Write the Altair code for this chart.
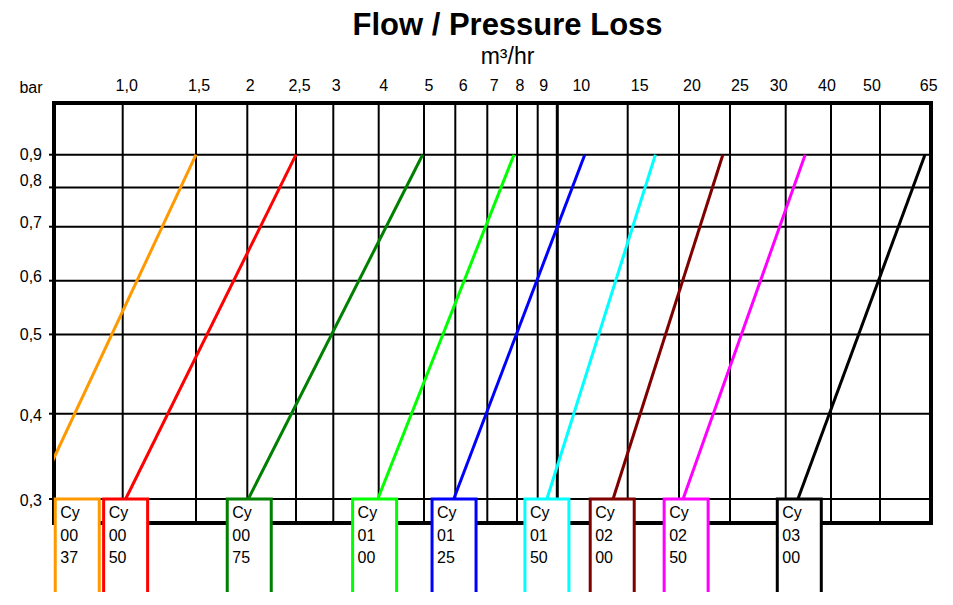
import altair as alt
import pandas as pd

# ---------------- data ----------------
models = ["Cy0037", "Cy0050", "Cy0075", "Cy0100", "Cy0125",
          "Cy0150", "Cy0200", "Cy0250", "Cy0300"]
box_labels = ["Cy\n00\n37", "Cy\n00\n50", "Cy\n00\n75", "Cy\n01\n00", "Cy\n01\n25",
              "Cy\n01\n50", "Cy\n02\n00", "Cy\n02\n50", "Cy\n03\n00"]
colors = ["#FF9900", "#FF0000", "#008000", "#00FF00", "#0000FF",
          "#00FFFF", "#800000", "#FF00FF", "#000000"]

# flow (m3/hr) read at 0,3 bar and at 0,9 bar for every model
flow_at_low = [0.40, 1.02, 2.01, 3.98, 5.95, 9.47, 13.96, 20.4, 32.7]
flow_at_high = [1.5, 2.5, 4.97, 7.9, 11.95, 17.7, 24.3, 34.3, 63.3]
pressure_low = 0.3
pressure_high = 0.9
# flow at which each model's label box sits
box_flow = [0.69, 1.02, 2.02, 3.91, 5.96, 9.47, 13.9, 20.7, 33.0]
box_bottom_pressure = 0.15

x_ticks = [1, 1.5, 2, 2.5, 3, 4, 5, 6, 7, 8, 9, 10, 15, 20, 25, 30, 40, 50, 65]
x_tick_labels = ["1,0", "1,5", "2", "2,5", "3", "4", "5", "6", "7", "8", "9",
                 "10", "15", "20", "25", "30", "40", "50", "65"]
y_ticks = [0.3, 0.4, 0.5, 0.6, 0.7, 0.8, 0.9]
y_tick_labels = ["0,3", "0,4", "0,5", "0,6", "0,7", "0,8", "0,9"]
y_unit = "bar"

# ---------------- layout / style ----------------
W, H = 877, 420
FONT = "Liberation Sans"
# the chart's hand-drawn (irregular) grid: pixel position of each tick
x_range = [68.7, 142, 193.3, 242, 279.3, 324.7, 370, 401.3, 433.3, 463, 483.7,
           503.3, 573.7, 625, 676, 731.7, 777, 826, 876.7]
y_range = [396, 310.7, 231.4, 177.7, 123.7, 84.4, 51.7]
# label nudges (px) as printed on the original chart
x_label_shift = [4, 3, 3, 3.5, 3, 5, 5, 8, 7, 3, 6, 24, 12, 13, 10, -7, -4, -8, -2]
y_label_shift = [2, 2, 1, -4, -4, -6, 0]

lines_rows = []
for m, lo, hi in zip(models, flow_at_low, flow_at_high):
    lines_rows.append({"model": m, "flow": lo, "pressure": pressure_low})
    lines_rows.append({"model": m, "flow": hi, "pressure": pressure_high})
lines_df = pd.DataFrame(lines_rows)

boxes_df = pd.DataFrame({
    "model": models,
    "flow": box_flow,
    "label": box_labels,
    "pressure": [pressure_low] * len(models),
    "pressure_bottom": [box_bottom_pressure] * len(models),
})
xgrid_df = pd.DataFrame({"flow": x_ticks, "label": x_tick_labels})
ygrid_df = pd.DataFrame({"pressure": y_ticks, "label": y_tick_labels})

x_scale = alt.Scale(domain=x_ticks, range=x_range, nice=False, zero=False, padding=0)
y_scale = alt.Scale(domain=y_ticks, range=y_range, nice=False, zero=False, padding=0)
color_scale = alt.Scale(domain=models, range=colors)

X = lambda: alt.X("flow:Q", scale=x_scale, axis=None)
Y = lambda: alt.Y("pressure:Q", scale=y_scale, axis=None)

# grid (vertical and horizontal rules through every tick)
vgrid = alt.Chart(xgrid_df).mark_rule(color="black").encode(
    x=X(),
    strokeWidth=alt.condition("datum.flow == 10", alt.value(3), alt.value(2)),
)
hgrid = alt.Chart(ygrid_df).mark_rule(color="black", strokeWidth=2).encode(y=Y())
yticks = alt.Chart(ygrid_df).mark_rule(color="black", strokeWidth=2).encode(
    y=Y(), x=alt.value(-5), x2=alt.value(0))

lines = alt.Chart(lines_df).mark_line(strokeWidth=3, clip=True).encode(
    x=X(), y=Y(),
    color=alt.Color("model:N", scale=color_scale, legend=None),
    detail="model:N",
)

boxes = alt.Chart(boxes_df).mark_bar(width=44, fill="white", strokeWidth=3, clip=False).encode(
    x=X(), y=Y(),
    y2="pressure_bottom:Q",
    stroke=alt.Stroke("model:N", scale=color_scale, legend=None),
)

texts = alt.Chart(boxes_df).mark_text(
    align="left", baseline="alphabetic", dx=-17, dy=19, lineBreak="\n",
    lineHeight=22.5, font=FONT, fontSize=16, color="black",
).encode(x=X(), y=Y(), text="label:N")

# tick labels, drawn as text so each can carry the original's nudge
x_label_layers = []
for v, t, s in zip(x_ticks, x_tick_labels, x_label_shift):
    x_label_layers.append(
        alt.Chart(pd.DataFrame({"flow": [v], "label": [t]})).mark_text(
            align="center", baseline="alphabetic", dx=s, font=FONT, fontSize=16,
            color="black",
        ).encode(x=X(), y=alt.value(-11.6), text="label:N")
    )
y_label_layers = []
for v, t, s in zip(y_ticks, y_tick_labels, y_label_shift):
    y_label_layers.append(
        alt.Chart(pd.DataFrame({"pressure": [v], "label": [t]})).mark_text(
            align="right", baseline="middle", dy=s, font=FONT, fontSize=16,
            color="black",
        ).encode(x=alt.value(-12), y=Y(), text="label:N")
    )

unit_label = alt.Chart(pd.DataFrame({"label": [y_unit]})).mark_text(
    align="center", baseline="alphabetic", font=FONT, fontSize=16, color="black",
).encode(x=alt.value(-23), y=alt.value(-10), text="label:N")

chart = alt.layer(
    vgrid, hgrid, yticks, lines, boxes, texts, unit_label,
    *x_label_layers, *y_label_layers,
).properties(
    width=W, height=H,
    autosize=alt.AutoSizeParams(type="none"),
    padding={"left": 46, "top": 95, "right": 10, "bottom": 69},
    title=alt.TitleParams(
        text="Flow / Pressure Loss", subtitle="m³/hr",
        font=FONT, fontSize=31, fontWeight="bold", color="black",
        subtitleFont=FONT, subtitleFontSize=23, subtitleColor="black",
        subtitlePadding=4, anchor="middle", dx=15, offset=8,
    ),
).configure(font=FONT).configure_view(stroke="black", strokeWidth=4)

chart.save("out.html", embed_options={"renderer": "svg", "actions": False})
